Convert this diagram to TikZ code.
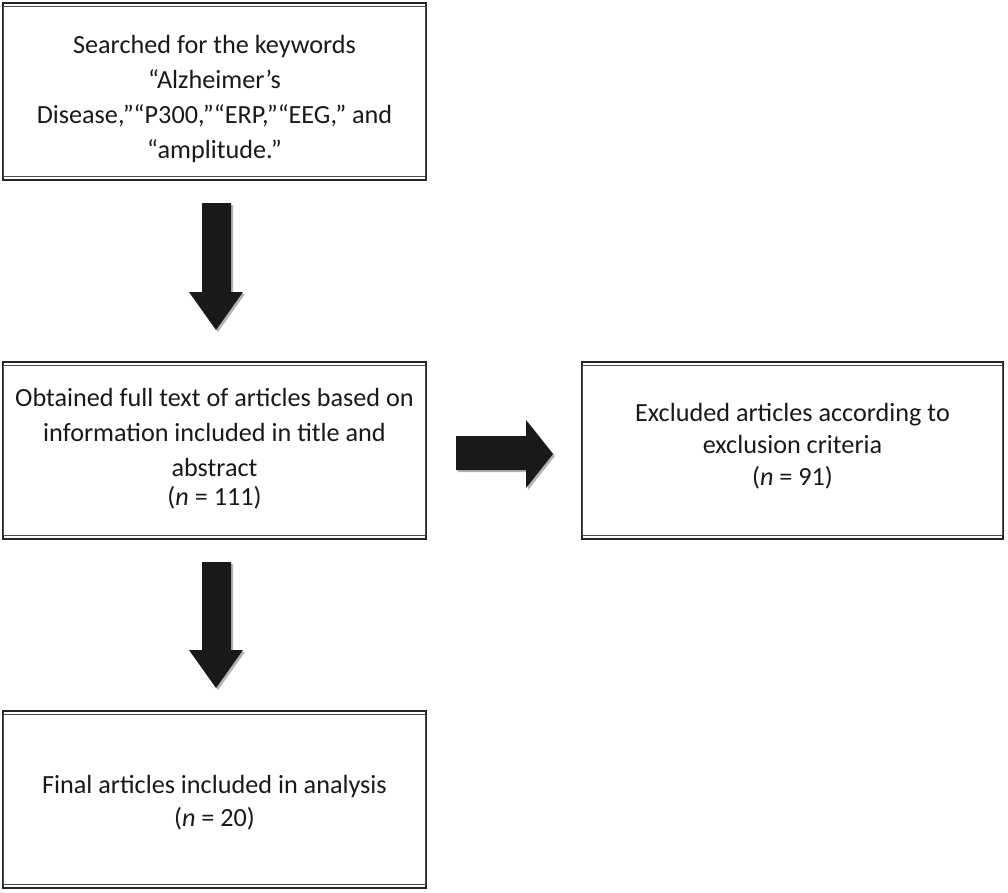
\documentclass[tikz,border=0pt]{standalone}
\usepackage{fontspec}
\setmainfont{Carlito}
\begin{document}
\begin{tikzpicture}[x=1pt,y=-1pt,
  box/.style={draw=black!85, line width=1.6pt, minimum width=423pt, minimum height=177pt, inner sep=0pt},
  innerline/.style={draw=black!70, line width=0.7pt},
  txt/.style={align=center, font=\fontsize{26.2}{35}\selectfont, text=black!90},
  blockarrow/.style={fill=black!90, draw=none},
  shadow/.style={fill=black!30, draw=none}]
\useasboundingbox (0,0) rectangle (1008,892);
% boxes
\node[box] (b1) at (214.5,91.5) {};
\node[box] (b2) at (214.5,450.5) {};
\node[box, minimum width=421pt] (b3) at (792.5,450.5) {};
\node[box] (b4) at (214.5,799.5) {};
\foreach \b in {b1,b2,b3,b4}{
  \draw[innerline] ([shift={(1.5pt,-4pt)}]\b.north west) rectangle ([shift={(-1.5pt,4pt)}]\b.south east);
}
% texts
\node[txt] (t1) at (214.5,99) {Searched for the keywords\\“Alzheimer’s\\Disease,”“P300,”“ERP,”“EEG,” and\\“amplitude.”};
\node[txt] (t2) at (214.5,449) {Obtained full text of articles based on\\information included in title and\\abstract\\[-6pt](\textit{n} = 111)};
\node[txt] (t3) at (792.5,446) {Excluded articles according to\\[-3pt]exclusion criteria\\[-3pt](\textit{n} = 91)};
\node[txt] (t4) at (214.5,803) {Final articles included in analysis\\[-2pt](\textit{n} = 20)};
% arrow 1 (b1 -> b2)
\fill[shadow] (204,205) -- (233,205) -- (233,294) -- (245,294) -- (218,332) -- (191,294) -- (204,294) -- cycle;
\fill[blockarrow] (202,203) -- (231,203) -- (231,292) -- (243,292) -- (216,330) -- (189,292) -- (202,292) -- cycle;
% arrow 2 (b2 -> b4)
\fill[shadow] (204,564) -- (233,564) -- (233,652) -- (245,652) -- (218,690) -- (191,652) -- (204,652) -- cycle;
\fill[blockarrow] (202,562) -- (231,562) -- (231,650) -- (243,650) -- (216,688) -- (189,650) -- (202,650) -- cycle;
% arrow 3 (b2 -> b3)
\fill[shadow] (458,438) -- (528,438) -- (528,422) -- (555,456) -- (528,490) -- (528,472) -- (458,472) -- cycle;
\fill[blockarrow] (456,436) -- (526,436) -- (526,420) -- (553,454) -- (526,488) -- (526,470) -- (456,470) -- cycle;
\end{tikzpicture}
\end{document}
